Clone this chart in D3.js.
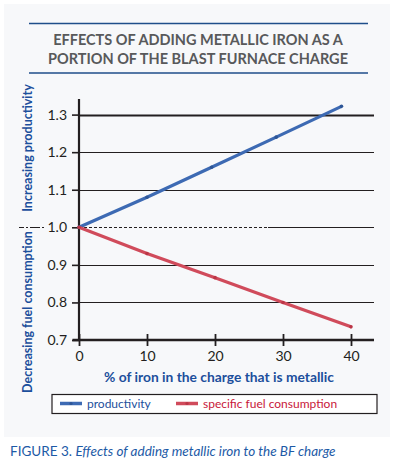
<!DOCTYPE html>
<html>
<head>
<meta charset="utf-8">
<script src="https://cdn.jsdelivr.net/npm/d3@7"></script>
<style>
  body { margin: 0; background: #fff; }
  text { font-family: Lato, "Open Sans", sans-serif; }
</style>
</head>
<body>
<div id="chart"></div>
<script>
// values
const titleLines = ["EFFECTS OF ADDING METALLIC IRON AS A", "PORTION OF THE BLAST FURNACE CHARGE"];
const xTicks = [0, 10, 20, 30, 40];
const yTicks = [0.7, 0.8, 0.9, 1.0, 1.1, 1.2, 1.3];
const productivityX = [0, 10, 19.5, 29, 38.6];
const productivityY = [1.0, 1.08, 1.16, 1.24, 1.322];
const fuelX = [0, 10, 20, 30, 40];
const fuelY = [1.0, 0.93, 0.866, 0.80, 0.735];
const seriesNames = ["productivity", "specific fuel consumption"];

let W = 393, H = 468;
let svg = d3.select("#chart").append("svg")
    .attr("width", W).attr("height", H);

// light panel
svg.append("rect")
    .attr("x", 4).attr("y", 4)
    .attr("width", 386).attr("height", 433)
    .attr("fill", "#f7f8fa");

// title with rules
svg.append("line").attr("x1", 29).attr("x2", 368).attr("y1", 23.5).attr("y2", 23.5)
    .attr("stroke", "#1f4e8a").attr("stroke-width", 1.3);
svg.append("line").attr("x1", 29).attr("x2", 368).attr("y1", 73).attr("y2", 73)
    .attr("stroke", "#1f4e8a").attr("stroke-width", 1.3);
svg.selectAll(".title")
    .data(titleLines)
    .enter().append("text")
      .attr("class", "title")
      .attr("x", 198)
      .attr("y", (d, i) => 45 + i * 18.5)
      .attr("text-anchor", "middle")
      .attr("font-size", 14.5)
      .attr("font-weight", "bold")
      .attr("fill", "#58595b")
      .text(d => d);

let x = d3.scaleLinear().domain([0, 40]).range([79, 351]);
let y = d3.scaleLinear().domain([0.7, 1.3]).range([340, 114.6]);
let xRight = 374;

// grid lines
svg.append("g")
  .selectAll("line")
  .data(yTicks.filter(v => v > 0.75 && v !== 1.0))
  .enter().append("line")
    .attr("x1", x(0)).attr("x2", xRight)
    .attr("y1", d => Math.round(y(d)) + 0.5)
    .attr("y2", d => Math.round(y(d)) + 0.5)
    .attr("stroke", "#231f20")
    .attr("stroke-width", d => d === 1.3 ? 2.2 : 1.1);

// 1.0 reference line: dashed then solid
let y1 = Math.round(y(1.0)) + 0.5;
svg.append("line").attr("x1", x(0)).attr("x2", 268).attr("y1", y1).attr("y2", y1)
    .attr("stroke", "#231f20").attr("stroke-width", 1).attr("stroke-dasharray", "3,2");
svg.append("line").attr("x1", 268).attr("x2", xRight).attr("y1", y1).attr("y2", y1)
    .attr("stroke", "#231f20").attr("stroke-width", 1.1);
svg.append("line").attr("x1", 19).attr("x2", 44).attr("y1", y1).attr("y2", y1)
    .attr("stroke", "#231f20").attr("stroke-width", 1).attr("stroke-dasharray", "5,2,2,2,5,0");

// y axis
let yAxis = svg.append("g")
    .attr("transform", "translate(" + x(0) + ",0)")
    .call(d3.axisLeft(y).tickValues(yTicks).tickFormat(d3.format(".1f")).tickSize(7).tickPadding(5));
yAxis.select(".domain").remove();
yAxis.selectAll(".tick line").attr("stroke", "#231f20").attr("stroke-width", 1.6);
yAxis.selectAll("text").attr("font-size", 14).attr("fill", "#231f20");
svg.append("line").attr("x1", x(0)).attr("x2", x(0)).attr("y1", 99).attr("y2", y(0.7) + 1)
    .attr("stroke", "#231f20").attr("stroke-width", 2.2);

// x axis
let xAxis = svg.append("g")
    .attr("transform", "translate(0," + y(0.7) + ")")
    .call(d3.axisBottom(x).tickValues(xTicks).tickSize(6).tickPadding(5));
xAxis.select(".domain").remove();
xAxis.selectAll(".tick line").attr("y1", -6).attr("stroke", "#231f20").attr("stroke-width", 1.8);
xAxis.selectAll("text").attr("font-size", 14).attr("fill", "#231f20");
svg.append("line").attr("x1", 72.5).attr("x2", xRight).attr("y1", y(0.7)).attr("y2", y(0.7))
    .attr("stroke", "#231f20").attr("stroke-width", 2.4);

// axis titles
svg.append("text")
    .attr("x", 219).attr("y", 382)
    .attr("text-anchor", "middle")
    .attr("font-size", 13.8).attr("font-weight", "bold")
    .attr("fill", "#1c4f9c")
    .text("% of iron in the charge that is metallic");
svg.append("text")
    .attr("transform", "translate(32,148) rotate(-90)")
    .attr("text-anchor", "middle")
    .attr("font-size", 12.5).attr("font-weight", "bold")
    .attr("fill", "#1c4f9c")
    .text("Increasing productivity");
svg.append("text")
    .attr("transform", "translate(32,312) rotate(-90)")
    .attr("text-anchor", "middle")
    .attr("font-size", 12.5).attr("font-weight", "bold")
    .attr("fill", "#1c4f9c")
    .text("Decreasing fuel consumption");

// series
let series = [
  {name: seriesNames[0], xs: productivityX, ys: productivityY, color: "#3d6ab3", dot: "#2d5596"},
  {name: seriesNames[1], xs: fuelX, ys: fuelY, color: "#d04b5b", dot: "#bb3546"}
];
let line = d3.line().x(d => x(d[0])).y(d => y(d[1]));

series.forEach(function(s) {
  let pts = s.xs.map((v, i) => [v, s.ys[i]]);
  svg.append("path")
      .datum(pts)
      .attr("d", line)
      .attr("fill", "none")
      .attr("stroke", s.color)
      .attr("stroke-width", 3.2);
  svg.append("g")
    .selectAll("circle")
    .data(pts)
    .enter().append("circle")
      .attr("cx", d => x(d[0]))
      .attr("cy", d => y(d[1]))
      .attr("r", 1.8)
      .attr("fill", s.dot);
});

// legend
svg.append("rect")
    .attr("x", 52).attr("y", 394.5)
    .attr("width", 325).attr("height", 19)
    .attr("fill", "#fff").attr("stroke", "#231f20").attr("stroke-width", 1.2);
let legendPos = [60, 176];
let legendText = ["#1c4f9c", "#c8173a"];
series.forEach(function(s, i) {
  svg.append("line")
      .attr("x1", legendPos[i]).attr("x2", legendPos[i] + 22)
      .attr("y1", 403.5).attr("y2", 403.5)
      .attr("stroke", s.color).attr("stroke-width", 3.5);
  svg.append("circle").attr("cx", legendPos[i] + 11).attr("cy", 403.5).attr("r", 1.6).attr("fill", s.dot);
  svg.append("text")
      .attr("x", legendPos[i] + 27).attr("y", 407.5)
      .attr("font-size", 12)
      .attr("fill", legendText[i])
      .text(s.name);
});

// caption
let cap = svg.append("text")
    .attr("x", 10).attr("y", 456)
    .attr("font-size", 13.5)
    .attr("fill", "#1d5aa6");
cap.append("tspan").text("FIGURE 3. ");
cap.append("tspan").attr("font-style", "italic").text("Effects of adding metallic iron to the BF charge");
</script>
</body>
</html>
